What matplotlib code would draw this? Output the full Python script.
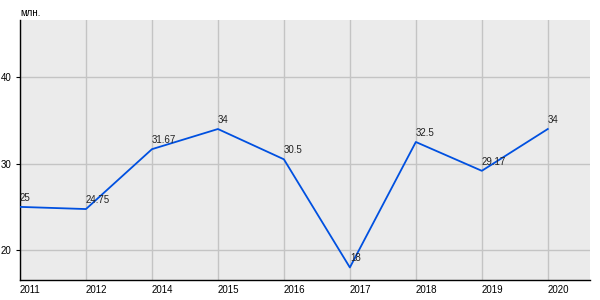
import matplotlib.pyplot as plt

plt.rcParams['font.family'] = ['Liberation Sans', 'DejaVu Sans']

years = ['2011', '2012', '2014', '2015', '2016', '2017', '2018', '2019', '2020']
values = [25, 24.75, 31.67, 34, 30.5, 18, 32.5, 29.17, 34]
labels = ['25', '24.75', '31.67', '34', '30.5', '18', '32.5', '29.17', '34']

fig = plt.figure(figsize=(6, 3), dpi=100)
ax = fig.add_axes([20 / 600, 20 / 300, 570 / 600, 260 / 300])
ax.set_facecolor('#ebebeb')

x = list(range(len(years)))
ax.plot(x, values, color='#0050e0', linewidth=1.3, zorder=3)

for xi, v, lab in zip(x, values, labels):
    ax.annotate(lab, (xi, v), xytext=(0, 3), textcoords='offset points',
                ha='left', va='bottom', fontsize=7, color='#222222', zorder=4)

ax.set_xlim(0, 8.64)
ax.set_ylim(16.55, 46.6)
ax.set_xticks(x)
ax.set_xticklabels(years, ha='left', fontsize=7)
ax.set_yticks([20, 30, 40])
ax.tick_params(axis='x', length=0, pad=3.5)
ax.tick_params(axis='y', length=3, pad=3, labelsize=7)
ax.grid(True, color='#c4c4c4', linewidth=1)
ax.set_axisbelow(True)

for s in ['top', 'right']:
    ax.spines[s].set_visible(False)
ax.spines['left'].set_color('black')
ax.spines['bottom'].set_color('black')
ax.spines['left'].set_linewidth(1)
ax.spines['bottom'].set_linewidth(1)

fig.text(20 / 600, 1 - 13 / 300, 'млн.', fontsize=7, ha='left', va='center')

fig.savefig('out.png', dpi=100)
